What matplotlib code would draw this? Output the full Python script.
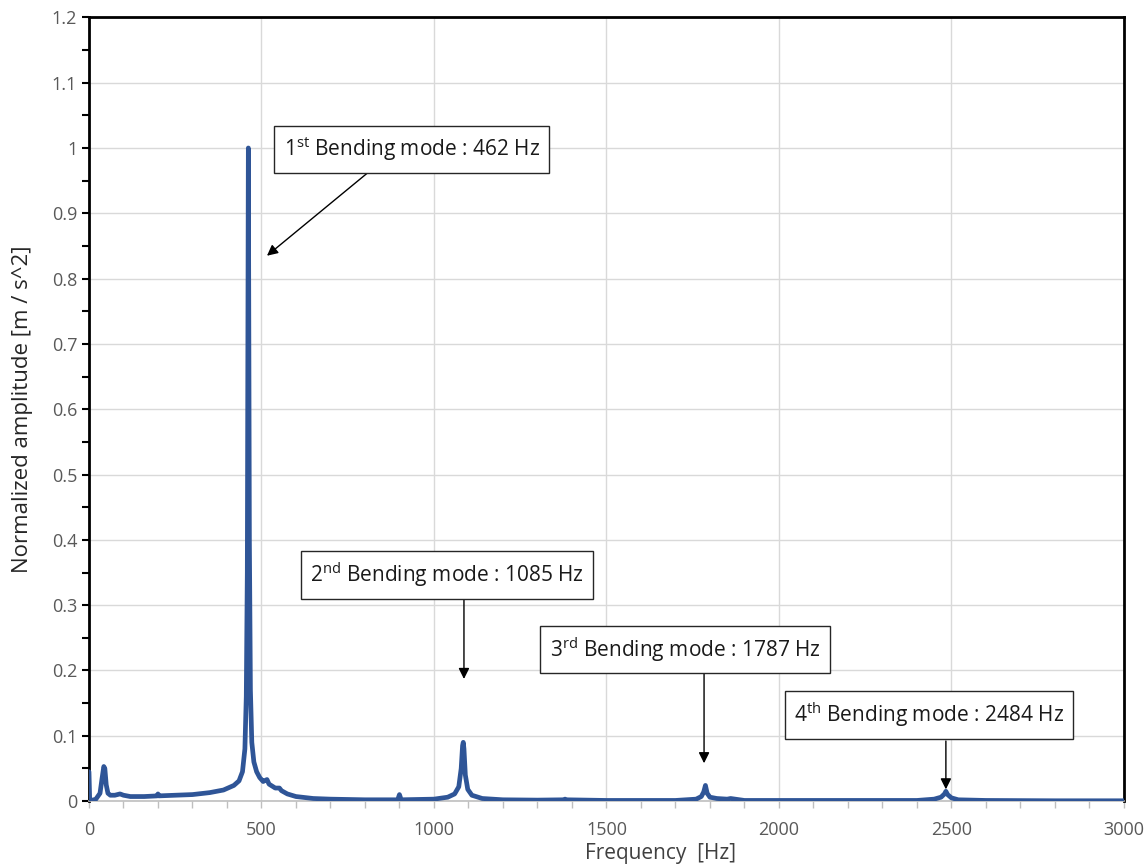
import matplotlib.pyplot as plt
from matplotlib.ticker import MultipleLocator

plt.rcParams['font.family'] = ['Open Sans', 'DejaVu Sans']
plt.rcParams['mathtext.fontset'] = 'custom'
plt.rcParams['mathtext.rm'] = 'Open Sans'

# spectrum (Hz, normalized amplitude)
freq = [0, 2, 8, 20, 32, 38, 43, 46, 50, 55, 62, 75, 90, 100, 120, 160, 198, 200, 202,
        250, 300, 350, 390, 420, 435, 445, 452, 456, 459, 462, 465, 468, 472, 478,
        486, 495, 505, 512, 516, 522, 540, 552, 558, 575, 600, 650, 700, 800, 895,
        900, 905, 1000, 1040, 1060, 1072, 1079, 1083, 1085, 1087, 1091, 1098, 1110,
        1140, 1200, 1300, 1375, 1380, 1385, 1500, 1700, 1760, 1775, 1782, 1787,
        1792, 1800, 1820, 1850, 1860, 1900, 2100, 2400, 2450, 2470, 2480, 2484,
        2489, 2500, 2520, 2600, 2800, 3000]
amp = [0.045, 0.004, 0.001, 0.003, 0.012, 0.035, 0.053, 0.05, 0.025, 0.012, 0.009,
       0.009, 0.011, 0.009, 0.007, 0.007, 0.008, 0.011, 0.008,
       0.009, 0.010, 0.013, 0.017, 0.024, 0.031, 0.045, 0.08, 0.16, 0.35, 1.0,
       0.40, 0.17, 0.09, 0.06, 0.045, 0.036, 0.03, 0.032, 0.033, 0.026, 0.02,
       0.02, 0.016, 0.011, 0.007, 0.004, 0.003, 0.002, 0.002, 0.010, 0.002, 0.003,
       0.006, 0.011, 0.022, 0.05, 0.085, 0.09, 0.08, 0.04, 0.018, 0.009,
       0.004, 0.002, 0.0015, 0.002, 0.003, 0.002, 0.001, 0.001, 0.003, 0.007,
       0.014, 0.024, 0.012, 0.006, 0.004, 0.003, 0.004, 0.001, 0.001, 0.001, 0.003,
       0.006, 0.011, 0.015, 0.01, 0.005, 0.002, 0.001, 0.0005, 0.0005]

# mode callouts: text, arrow tip, box centre, arrow start (data coords)
labels = [r"1$^{\mathrm{st}}$ Bending mode : 462 Hz",
          r"2$^{\mathrm{nd}}$ Bending mode : 1085 Hz",
          r"3$^{\mathrm{rd}}$ Bending mode : 1787 Hz",
          r"4$^{\mathrm{th}}$ Bending mode : 2484 Hz"]
tip_x = [516, 1087, 1783, 2484]
tip_y = [0.835, 0.187, 0.058, 0.018]
box_x = [936, 1038, 1728, 2435]
box_y = [0.998, 0.346, 0.232, 0.132]
start_x = [808, 1087, 1783, 2484]
start_y = [0.962, 0.312, 0.195, 0.092]

fig = plt.figure(figsize=(11.48, 8.67), dpi=100)
ax = fig.add_axes([0.0775, 0.076, 0.9015, 0.904])

ax.plot(freq, amp, color='#2F5597', lw=3.4, solid_joinstyle='round',
        solid_capstyle='round', zorder=3)

ax.set_xlim(0, 3000)
ax.set_ylim(0, 1.2)
ax.xaxis.set_major_locator(MultipleLocator(500))
ax.xaxis.set_minor_locator(MultipleLocator(100))
ax.yaxis.set_minor_locator(MultipleLocator(0.05))
ax.set_yticks([i / 10 for i in range(13)])
ax.set_yticklabels(['0', '0.1', '0.2', '0.3', '0.4', '0.5', '0.6', '0.7', '0.8', '0.9', '1', '1.1', '1.2'])
ax.grid(True, which='major', color='#d9d9d9', lw=1.0, zorder=0)
ax.set_axisbelow(True)

for s in ['left', 'top', 'right']:
    ax.spines[s].set_color('black')
    ax.spines[s].set_linewidth(2.0)
ax.spines['bottom'].set_color('#bfbfbf')
ax.spines['bottom'].set_linewidth(1.2)

ax.tick_params(axis='both', which='both', labelsize=13, labelcolor='#595959')
ax.tick_params(axis='y', which='both', color='black', width=1.5, length=5, direction='out')
ax.tick_params(axis='x', which='both', color='#bfbfbf', width=1.0, length=5, direction='out')
ax.tick_params(axis='x', pad=9)

ax.set_xlabel('Frequency  [Hz]', fontsize=15, color='#404040')
ax.set_ylabel('Normalized amplitude [m / s^2]', fontsize=16, color='#262626')
ax.xaxis.set_label_coords(0.552, -0.054)
ax.yaxis.set_label_coords(-0.054, 0.5)

for i in range(len(labels)):
    ax.annotate('', xy=(tip_x[i], tip_y[i]), xytext=(start_x[i], start_y[i]),
                arrowprops=dict(arrowstyle='-|>', color='black', lw=1.0,
                                mutation_scale=16, shrinkA=0, shrinkB=0), zorder=5)
    ax.text(box_x[i], box_y[i], labels[i], fontsize=15, color='#1a1a1a',
            ha='center', va='center', zorder=6,
            bbox=dict(boxstyle='square,pad=0.45', fc='white', ec='#262626', lw=1.0))

fig.savefig('out.png', dpi=100)
